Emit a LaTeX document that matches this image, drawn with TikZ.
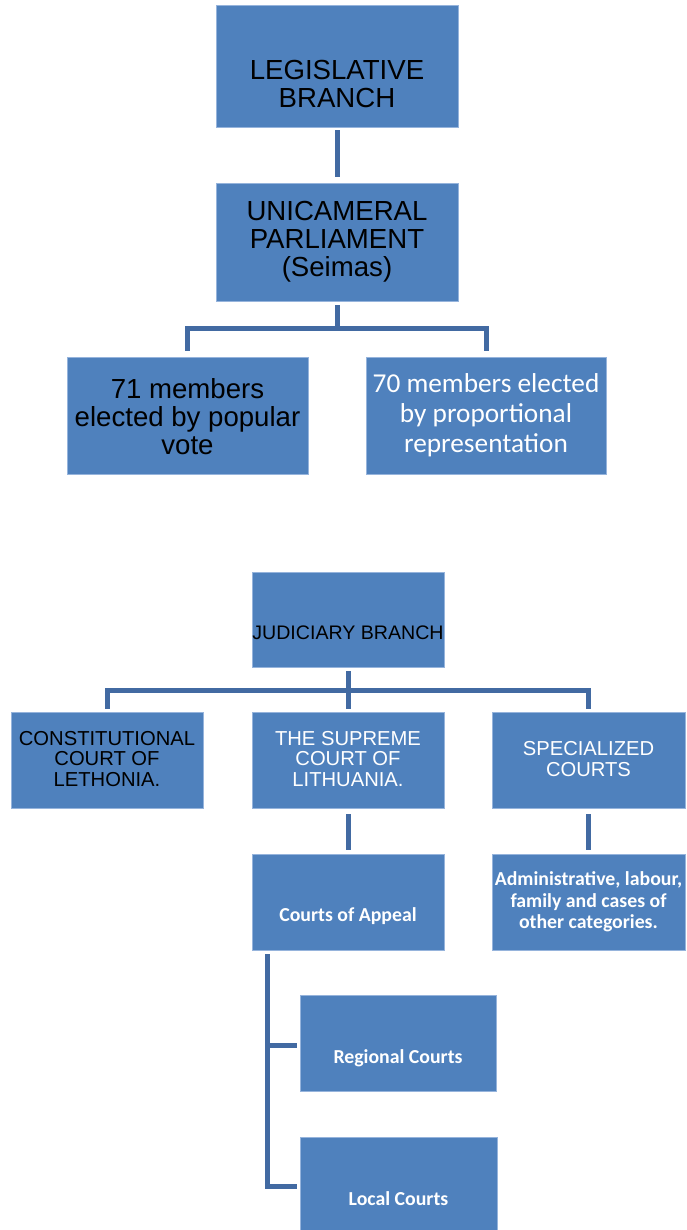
\documentclass[tikz,border=0pt]{standalone}
\usepackage{fontspec}
\setmainfont{Liberation Sans}
\newfontfamily\calfont{Carlito}
\definecolor{boxblue}{RGB}{79,129,189}
\definecolor{boxedge}{RGB}{150,180,220}
\definecolor{connblue}{RGB}{66,106,162}
\begin{document}
\begin{tikzpicture}[x=1pt,y=-1pt,
  bx/.style={fill=boxblue,draw=boxedge,line width=0.6pt,inner sep=0pt},
  conn/.style={draw=connblue,line width=5pt},
  arialA/.style={font=\fontsize{27.6}{28}\selectfont,align=center,text=black,inner sep=0pt},
  arialB/.style={font=\fontsize{20.2}{20.5}\selectfont,align=center,inner sep=0pt},
  calA/.style={font=\calfont\fontsize{27.3}{30}\selectfont,align=center,text=white,inner sep=0pt},
  calB/.style={font=\calfont\bfseries\fontsize{19.8}{21.7}\selectfont,align=center,text=white,inner sep=0pt}]
\useasboundingbox (0,0) rectangle (686,1230);
\fill[white] (0,0) rectangle (686,1230);

% boxes
\node[bx,minimum width=242pt,minimum height=122pt] (leg) at (337,66) {};
\node[bx,minimum width=242pt,minimum height=118pt] (uni) at (337,242) {};
\node[bx,minimum width=241pt,minimum height=117pt] (m71) at (187.5,415.5) {};
\node[bx,minimum width=240pt,minimum height=117pt] (m70) at (486,415.5) {};
\node[bx,minimum width=192pt,minimum height=95pt] (jud) at (348,619.5) {};
\node[bx,minimum width=192pt,minimum height=96pt] (con) at (107,760) {};
\node[bx,minimum width=192pt,minimum height=96pt] (sup) at (348,760) {};
\node[bx,minimum width=193pt,minimum height=96pt] (spe) at (588.5,760) {};
\node[bx,minimum width=192pt,minimum height=96pt] (app) at (348,902) {};
\node[bx,minimum width=193pt,minimum height=96pt] (adm) at (588.5,902) {};
\node[bx,minimum width=196pt,minimum height=96pt] (reg) at (398,1043) {};
\node[bx,minimum width=197pt,minimum height=96pt] (loc) at (398.5,1185) {};

% texts
\node[arialA] (tleg) at ([yshift=-18pt]leg.center) {LEGISLATIVE\\BRANCH};
\node[arialA] (tuni) at (uni.center) {UNICAMERAL\\PARLIAMENT\\(Seimas)};
\node[arialA] (t71) at ([yshift=-1pt]m71.center) {71 members\\elected by popular\\vote};
\node[calA] (t70) at ([yshift=0pt]m70.center) {70 members elected\\by proportional\\representation};
\node[font=\fontsize{19.6}{20}\selectfont,inner sep=0pt] (tjud) at ([yshift=-13pt]jud.center) {JUDICIARY BRANCH};
\node[arialB,text=black] (tcon) at ([yshift=1pt]con.center) {CONSTITUTIONAL\\COURT OF\\LETHONIA.};
\node[arialB,text=white] (tsup) at ([yshift=1pt]sup.center) {THE SUPREME\\COURT OF\\LITHUANIA.};
\node[arialB,text=white] (tspe) at ([yshift=1pt]spe.center) {SPECIALIZED\\COURTS};
\node[calB] (tapp) at ([yshift=-14pt]app.center) {Courts of Appeal};
\node[calB] (tadm) at (adm.center) {Administrative, labour,\\family and cases of\\other categories.};
\node[calB] (treg) at ([yshift=-15pt]reg.center) {Regional Courts};
\node[calB] (tloc) at ([yshift=-14pt]loc.center) {Local Courts};

% connectors
\draw[conn] ([yshift=-3pt]leg.south) -- ([yshift=6pt]uni.north);
\draw[conn] ([yshift=-4pt]uni.south) |- ([yshift=-27pt]uni.south) -| ([yshift=6pt]m71.north);
\draw[conn] ([yshift=-4pt]uni.south) |- ([yshift=-27pt]uni.south) -| ([yshift=6pt]m70.north);
\draw[conn] ([yshift=-4pt]jud.south) -- ([yshift=3pt]sup.north);
\draw[conn] ([yshift=-4pt]jud.south) |- ([yshift=-23pt]jud.south) -| ([yshift=3pt]con.north);
\draw[conn] ([yshift=-4pt]jud.south) |- ([yshift=-23pt]jud.south) -| ([yshift=3pt]spe.north);
\draw[conn] ([yshift=-6pt]sup.south) -- ([yshift=4pt]app.north);
\draw[conn] ([yshift=-6pt]spe.south) -- ([yshift=4pt]adm.north);
\draw[conn] ([xshift=16pt,yshift=-4pt]app.south west) |- ([xshift=-3pt,yshift=-2pt]reg.west);
\draw[conn] ([xshift=16pt,yshift=-4pt]app.south west) |- ([xshift=-3pt,yshift=-1pt]loc.west);
\end{tikzpicture}
\end{document}
